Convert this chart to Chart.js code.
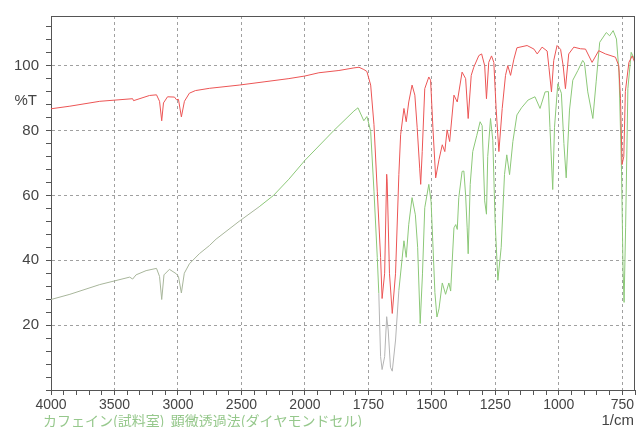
<!DOCTYPE html>
<html><head><meta charset="utf-8">
<script src="https://cdn.jsdelivr.net/npm/chart.js@4.4.0/dist/chart.umd.min.js"></script>
<style>html,body{margin:0;padding:0;background:#fff;}#wrap{width:637px;height:427px;position:relative;}</style>
</head><body><div id="wrap"><canvas id="c" width="637" height="427"></canvas></div>
<script>
// Sample spectrum (red): wavenumber (1/cm) and %T
const redWavenumbers = [4000,3851,3616,3357,3350,3224,3169,3145,3128,3114,3082,3027,3012,2996,2973,2949,2910,2863,2753,2518,2322,2126,2000,1945,1866,1807,1787,1768,1756,1741,1728,1715,1702,1696,1686,1678,1676,1667,1656,1643,1630,1623,1610,1601,1591,1578,1567,1558,1548,1544,1538,1528,1512,1505,1496,1485,1472,1459,1449,1440,1430,1413,1400,1381,1367,1357,1345,1335,1315,1304,1292,1285,1276,1265,1256,1247,1236,1223,1210,1201,1190,1177,1165,1125,1098,1085,1066,1046,1039,1029,1020,1007,993,983,974,961,941,915,895,869,843,816,777,764,757,751,744,738,724,711,701];
const redTransmittance = [86.7,87.5,89.0,89.8,89.2,90.8,91.0,89.0,83.0,88.5,90.4,90.3,89.5,89.6,84.2,89.0,91.5,92.3,93.0,94.0,95.0,96.0,96.8,97.8,98.5,99.3,99.5,98.8,98.2,94.0,81.8,61.3,40.9,28.2,36.0,66.5,64.4,36.0,23.6,36.0,66.5,78.7,86.8,82.7,88.8,94.0,90.9,81.0,68.4,63.4,73.5,92.9,96.5,95.5,81.0,65.4,71.0,75.6,73.5,80.2,76.6,90.9,88.8,98.0,96.0,83.7,97.0,99.5,103.1,103.6,100.0,89.8,101.0,103.0,101.0,86.8,73.5,86.8,97.0,100.0,97.0,102.0,105.5,106.2,105.1,103.6,105.7,104.5,99.5,91.9,101.6,106.2,105.0,100.0,92.9,103.6,105.7,105.2,105.1,101.0,104.6,103.6,102.6,100.0,89.8,69.5,72.0,92.0,101.0,103.0,101.0];

// Reference spectrum (green)
const greenWavenumbers = [4000,3851,3616,3380,3357,3330,3251,3169,3145,3128,3110,3067,3012,2996,2973,2950,2910,2832,2753,2700,2518,2360,2247,2126,2000,1886,1807,1791,1768,1756,1748,1741,1728,1715,1709,1702,1696,1686,1678,1672,1663,1656,1643,1630,1610,1601,1591,1578,1565,1556,1546,1537,1528,1512,1503,1496,1488,1480,1472,1459,1446,1433,1426,1413,1406,1400,1394,1381,1374,1367,1361,1357,1349,1339,1323,1310,1302,1292,1285,1280,1269,1260,1251,1240,1227,1214,1205,1194,1181,1165,1147,1121,1094,1074,1054,1041,1035,1024,1017,1004,990,980,971,958,945,925,906,899,886,866,853,839,813,800,786,773,763,753,747,743,737,728,715,702];
const greenTransmittance = [27.9,29.5,32.5,34.8,34.2,35.5,36.8,37.5,35.0,27.9,35.5,37.2,35.8,35.0,29.9,36.0,38.9,42.0,44.5,46.5,52.0,56.5,60.0,65.0,70.8,80.0,86.0,87.0,83.0,84.3,82.0,79.7,61.3,40.9,29.8,10.3,6.3,10.3,22.6,18.5,7.0,5.8,15.4,30.7,46.0,40.9,51.1,59.3,54.0,44.0,20.5,35.8,56.2,63.4,58.0,45.0,30.0,22.5,25.0,33.0,29.5,33.0,30.5,50.0,51.0,49.5,59.3,67.4,67.5,60.0,50.0,42.0,63.4,73.5,78.5,82.7,81.5,58.3,54.2,72.0,83.7,77.0,52.0,33.8,44.0,66.4,72.5,66.4,76.6,84.8,87.0,89.4,90.4,86.8,91.9,92.0,81.0,61.8,81.0,94.4,91.5,76.0,65.4,86.3,95.5,98.5,101.6,100.8,91.9,83.7,95.0,107.2,110.2,109.2,110.8,108.2,98.0,67.4,36.9,27.0,50.0,92.9,104.1,102.0];

// Axis tick labels
const xTickLabels = [4000,3500,3000,2500,2000,1750,1500,1250,1000,750];
const yTickLabels = [20,40,60,80,100];
const captionText = 'カフェイン(試料室)  顕微透過法(ダイヤモンドセル)';
const unitText = '1/cm';

// Piecewise axis (x2 expansion below 2000 1/cm)
function toPos(wn){ return wn >= 2000 ? (4000 - wn) / 500 : 4 + (2000 - wn) / 250; }
function toWn(p){ return p <= 4 ? 4000 - 500 * p : 2000 - 250 * (p - 4); }
function isInt(v){ return Math.abs(v - Math.round(v)) < 1e-6; }

const redData = redWavenumbers.map((w,i)=>({x:toPos(w), y:redTransmittance[i]}));
const greenData = greenWavenumbers.map((w,i)=>({x:toPos(w), y:greenTransmittance[i]}));

const FONT = "'Liberation Sans', Arial, sans-serif";

const decor = {
  id:'decor',
  afterDraw(chart){
    const ctx = chart.ctx, a = chart.chartArea, ys = chart.scales.y;
    ctx.save();
    ctx.strokeStyle = '#555'; ctx.lineWidth = 1;
    ctx.beginPath();
    ctx.moveTo(a.left, a.top + 0.5); ctx.lineTo(a.right, a.top + 0.5);
    ctx.moveTo(a.right - 0.5, a.top); ctx.lineTo(a.right - 0.5, a.bottom);
    ctx.stroke();
    ctx.fillStyle = '#444';
    ctx.font = '15px ' + FONT;
    ctx.textAlign = 'right'; ctx.textBaseline = 'middle';
    ctx.fillText('%T', 37, ys.getPixelForValue(90) + 3);
    ctx.fillStyle = 'rgb(150,200,140)';
    ctx.font = "14px 'Noto Sans CJK JP', sans-serif";
    ctx.textAlign = 'left'; ctx.textBaseline = 'middle';
    ctx.fillText(captionText, 43, 421);
    ctx.fillStyle = '#444';
    ctx.font = '15px ' + FONT;
    ctx.textAlign = 'right';
    ctx.fillText(unitText, 634, 421);
    ctx.restore();
  }
};

new Chart(document.getElementById('c'), {
  type:'line',
  data:{ datasets:[
    { label:'sample', data:redData, borderColor:'rgb(236,85,85)', borderWidth:1, pointRadius:0, tension:0, fill:false },
    { label:'reference', data:greenData, borderColor:'rgb(140,200,120)', borderWidth:1, pointRadius:0, tension:0, fill:false,
      segment:{ borderColor: c => {
        const wn = toWn(c.p0.parsed.x), t = Math.min(c.p0.parsed.y, c.p1.parsed.y);
        if (wn > 2450) return 'rgb(168,182,155)';
        if (wn < 1712 && wn > 1632 && t < 32) return 'rgb(180,180,180)';
        return 'rgb(140,200,120)';
      } } }
  ]},
  options:{
    responsive:false, animation:false, events:[],
    layout:{ padding:{ top:14, right:1, left:0, bottom:0 } },
    plugins:{ legend:{display:false}, tooltip:{enabled:false} },
    scales:{
      x:{ type:'linear', min:0, max:9.2,
        afterFit(s){ s.height = 37; },
        ticks:{ stepSize:0.2, autoSkip:false, maxRotation:0, includeBounds:false, padding:2,
          color:'#444', font:{ size:14, family:FONT },
          callback:(v)=> (isInt(v) && v <= 9.01 && xTickLabels.includes(Math.round(toWn(v)))) ? String(Math.round(toWn(v))) : '' },
        grid:{ drawOnChartArea:true, tickLength:5, tickColor:'#555', tickBorderDash:[],
          color: c => (isInt(c.tick.value) && c.tick.value > 0) ? '#a0a0a0' : 'rgba(0,0,0,0)' },
        border:{ display:true, color:'#555', width:1, dash:[3,3] }
      },
      y:{ type:'linear', min:0, max:115.3,
        afterFit(s){ s.width = 51; },
        ticks:{ stepSize:4, autoSkip:false, includeBounds:false, padding:7,
          color:'#444', font:{ size:15, family:FONT },
          callback:(v)=> yTickLabels.includes(v) ? String(v) : '' },
        grid:{ tickLength:5, tickColor:'#555', tickBorderDash:[],
          color: c => (yTickLabels.includes(c.tick.value)) ? '#a0a0a0' : 'rgba(0,0,0,0)' },
        border:{ display:true, color:'#555', width:1, dash:[3,3] }
      }
    }
  },
  plugins:[decor]
});
</script></body></html>
